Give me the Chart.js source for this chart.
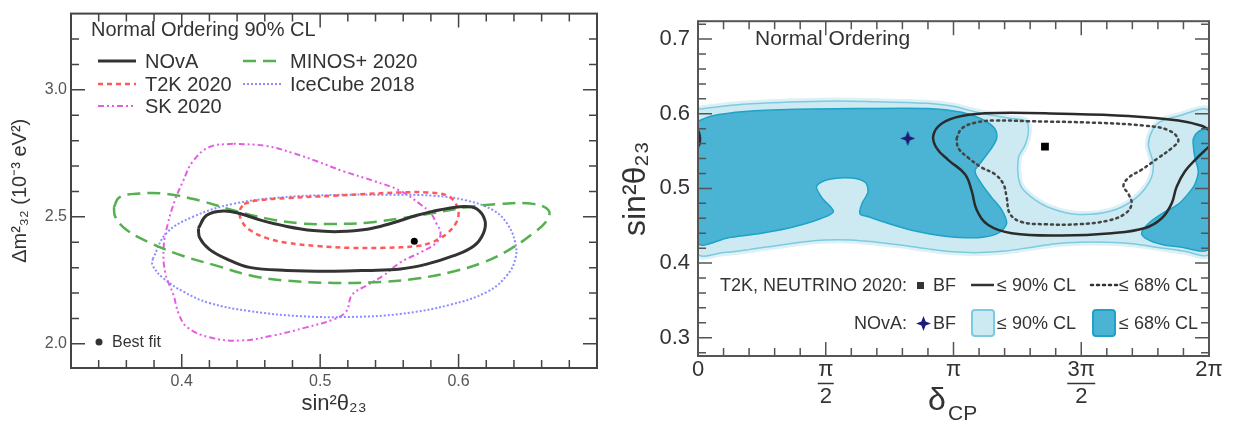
<!DOCTYPE html>
<html>
<head>
<meta charset="utf-8">
<script src="https://cdn.jsdelivr.net/npm/chart.js@4.4.1/dist/chart.umd.min.js"></script>
<style>
  html, body { margin: 0; padding: 0; background: #fff; }
  #wrap { position: relative; width: 1233px; height: 425px; }
  #left { position: absolute; left: 0; top: 0; }
  #right { position: absolute; left: 617px; top: 0; }
</style>
</head>
<body>
<div id="wrap">
  <canvas id="left" width="617" height="425"></canvas>
  <canvas id="right" width="616" height="425"></canvas>
</div>
<script>
// ===== LEFT PANEL DATA (sin^2 theta23 , dm^2_32 in 1e-3 eV^2) =====
const leftTitle = "Normal Ordering 90% CL";
const leftXTicks = [0.4, 0.5, 0.6];
const leftYTicks = [2.0, 2.5, 3.0];

const novaContour = [[0.412,2.455],[0.418,2.506],[0.430,2.523],[0.442,2.513],[0.457,2.487],[0.476,2.462],[0.495,2.446],[0.514,2.442],[0.534,2.451],[0.551,2.474],[0.570,2.506],[0.587,2.528],[0.604,2.541],[0.613,2.532],[0.619,2.487],[0.618,2.436],[0.611,2.385],[0.596,2.346],[0.577,2.314],[0.558,2.295],[0.534,2.289],[0.510,2.286],[0.476,2.289],[0.449,2.301],[0.433,2.333],[0.420,2.372],[0.413,2.417]];
const t2kContour = [[0.445,2.551],[0.454,2.564],[0.476,2.574],[0.510,2.583],[0.534,2.590],[0.558,2.596],[0.577,2.596],[0.592,2.583],[0.598,2.551],[0.600,2.513],[0.598,2.474],[0.592,2.436],[0.587,2.417],[0.580,2.398],[0.570,2.385],[0.546,2.378],[0.522,2.378],[0.498,2.385],[0.476,2.398],[0.461,2.417],[0.449,2.449],[0.443,2.487],[0.442,2.526]];
const minosContour = [[0.351,2.538],[0.355,2.577],[0.370,2.592],[0.389,2.590],[0.413,2.564],[0.437,2.526],[0.461,2.494],[0.486,2.474],[0.510,2.472],[0.534,2.477],[0.558,2.494],[0.582,2.515],[0.606,2.538],[0.630,2.551],[0.654,2.551],[0.665,2.526],[0.664,2.487],[0.654,2.436],[0.637,2.372],[0.618,2.321],[0.594,2.282],[0.570,2.257],[0.546,2.244],[0.510,2.240],[0.473,2.250],[0.449,2.270],[0.425,2.308],[0.401,2.346],[0.377,2.398],[0.360,2.449],[0.352,2.500]];
const icecubeContour = [[0.379,2.334],[0.389,2.436],[0.408,2.500],[0.437,2.551],[0.473,2.577],[0.510,2.586],[0.546,2.587],[0.582,2.583],[0.606,2.564],[0.625,2.526],[0.635,2.474],[0.641,2.398],[0.641,2.334],[0.635,2.270],[0.621,2.206],[0.594,2.154],[0.558,2.118],[0.522,2.106],[0.486,2.109],[0.449,2.129],[0.420,2.161],[0.401,2.206],[0.387,2.257],[0.379,2.308]];
const skContour = [[0.437,2.788],[0.420,2.775],[0.408,2.718],[0.401,2.641],[0.395,2.564],[0.390,2.474],[0.387,2.385],[0.388,2.282],[0.394,2.193],[0.398,2.116],[0.404,2.065],[0.420,2.026],[0.442,2.013],[0.466,2.033],[0.490,2.065],[0.510,2.097],[0.519,2.129],[0.523,2.193],[0.534,2.231],[0.546,2.270],[0.558,2.321],[0.572,2.359],[0.584,2.398],[0.587,2.436],[0.584,2.474],[0.580,2.513],[0.572,2.551],[0.558,2.602],[0.539,2.641],[0.517,2.679],[0.498,2.718],[0.481,2.750],[0.461,2.779]];
const bestFit = [[0.568,2.404]];

// ===== RIGHT PANEL DATA (delta_CP in units of pi , sin^2 theta23) =====
const rightTitle = "Normal Ordering";
const rightXTicks = [0, 0.5, 1, 1.5, 2];
const rightXLabels = ["0", ["π", "2"], "π", ["3π", "2"], "2π"];
const rightYTicks = [0.3, 0.4, 0.5, 0.6, 0.7];

const nova90 = [[0,0.606],[0.12,0.611],[0.25,0.614],[0.40,0.616],[0.55,0.617],[0.70,0.616],[0.82,0.615],[0.90,0.614],[1.00,0.610],[1.08,0.603],[1.15,0.598],[1.22,0.594],[1.285,0.590],[1.293,0.576],[1.28,0.558],[1.254,0.541],[1.26,0.506],[1.306,0.488],[1.384,0.473],[1.489,0.465],[1.619,0.470],[1.71,0.486],[1.769,0.510],[1.782,0.532],[1.763,0.558],[1.776,0.576],[1.808,0.589],[1.88,0.597],[2.0,0.603],[2.0,0.413],[1.9,0.416],[1.8,0.421],[1.7,0.426],[1.6,0.428],[1.5,0.428],[1.4,0.426],[1.3,0.421],[1.2,0.416],[1.1,0.414],[1.0,0.415],[0.9,0.419],[0.8,0.424],[0.7,0.428],[0.6,0.431],[0.5,0.431],[0.4,0.428],[0.3,0.423],[0.2,0.418],[0.1,0.414],[0,0.413]];
const nova68Left = [[0,0.590],[0.053,0.597],[0.184,0.603],[0.38,0.606],[0.641,0.607],[0.902,0.607],[1.032,0.602],[1.110,0.593],[1.162,0.580],[1.169,0.567],[1.149,0.554],[1.110,0.536],[1.084,0.523],[1.110,0.506],[1.149,0.488],[1.189,0.471],[1.208,0.453],[1.175,0.440],[1.097,0.434],[0.967,0.436],[0.836,0.444],[0.745,0.453],[0.667,0.462],[0.634,0.466],[0.641,0.479],[0.665,0.495],[0.655,0.508],[0.601,0.514],[0.510,0.512],[0.464,0.503],[0.484,0.488],[0.530,0.469],[0.484,0.460],[0.380,0.449],[0.249,0.440],[0.119,0.434],[0,0.427]];
const nova68Right = [[2.0,0.582],[1.958,0.576],[1.939,0.567],[1.939,0.556],[1.945,0.541],[1.958,0.523],[1.945,0.506],[1.919,0.493],[1.880,0.479],[1.815,0.466],[1.763,0.453],[1.736,0.440],[1.763,0.431],[1.815,0.425],[1.880,0.422],[2.0,0.420]];
const t2k90 = [[2.0,0.578],[1.971,0.584],[1.880,0.591],[1.684,0.597],[1.423,0.600],[1.162,0.601],[1.032,0.597],[0.954,0.587],[0.921,0.571],[0.934,0.554],[0.980,0.538],[1.045,0.519],[1.071,0.497],[1.091,0.471],[1.136,0.451],[1.228,0.440],[1.423,0.437],[1.619,0.440],[1.750,0.447],[1.815,0.460],[1.854,0.480],[1.873,0.502],[1.906,0.523],[1.945,0.538],[2.0,0.556]];
const t2k90Wrap = [[0,0.578],[0.006,0.572],[0.008,0.565],[0.005,0.559],[0,0.556]];
const t2k68 = [[1.012,0.567],[1.032,0.580],[1.084,0.588],[1.162,0.591],[1.293,0.590],[1.554,0.588],[1.750,0.584],[1.841,0.578],[1.880,0.565],[1.854,0.554],[1.802,0.541],[1.736,0.525],[1.684,0.514],[1.665,0.503],[1.684,0.493],[1.697,0.479],[1.671,0.466],[1.606,0.457],[1.489,0.452],[1.358,0.452],[1.267,0.455],[1.221,0.466],[1.208,0.488],[1.195,0.506],[1.162,0.519],[1.110,0.528],[1.058,0.541],[1.019,0.554]];
const novaBF = [[0.821,0.567]];
const t2kBF = [[1.358,0.556]];

// ===== SETUP =====
const FONT = '"Liberation Sans", Arial, Helvetica, sans-serif';
Chart.defaults.font.family = FONT;
Chart.defaults.color = "#333";
Chart.defaults.animation = false;
Chart.defaults.plugins.legend.display = false;
Chart.defaults.plugins.tooltip.enabled = false;

const toXY = arr => arr.map(p => ({ x: p[0], y: p[1] }));
const closed = arr => toXY(arr.concat([arr[0]]));

function steps(a, b, s) {
  const out = [];
  for (let v = a; v <= b + s / 2; v += s) out.push(Math.round(v * 1000) / 1000);
  return out;
}

function contour(label, pts, color, width, dash, order, legend) {
  return {
    label, data: pts, borderColor: color, borderWidth: width, borderDash: dash,
    pointRadius: 0, tension: 0.4, fill: false, order, legend
  };
}

function region(label, pts, fillColor, lineColor, order) {
  return {
    label, data: closed(pts), backgroundColor: fillColor, borderColor: lineColor,
    borderWidth: 1.5, pointRadius: 0, tension: 0.3, fill: "shape", order
  };
}

// frame + inward ticks on all four sides
function framePlugin(cfg) {
  return {
    id: "frame",
    afterDatasetsDraw(chart) {
      const { ctx, chartArea: a } = chart;
      const x = chart.scales.x, y = chart.scales.y;
      ctx.save();
      ctx.strokeStyle = cfg.color;
      ctx.lineWidth = 1.5;
      ctx.beginPath();
      cfg.xMinor.forEach(v => {
        const p = x.getPixelForValue(v);
        const len = cfg.xMajor.some(m => Math.abs(m - v) < 1e-6) ? cfg.major : cfg.minor;
        ctx.moveTo(p, a.bottom); ctx.lineTo(p, a.bottom - len);
        ctx.moveTo(p, a.top); ctx.lineTo(p, a.top + len);
      });
      cfg.yMinor.forEach(v => {
        const p = y.getPixelForValue(v);
        const len = cfg.yMajor.some(m => Math.abs(m - v) < 1e-6) ? cfg.major : cfg.minor;
        ctx.moveTo(a.left, p); ctx.lineTo(a.left + len, p);
        ctx.moveTo(a.right, p); ctx.lineTo(a.right - len, p);
      });
      ctx.stroke();
      ctx.lineWidth = 2;
      ctx.strokeRect(a.left, a.top, a.right - a.left, a.bottom - a.top);
      ctx.restore();
    }
  };
}

// ===== LEFT LEGEND =====
const leftLegend = {
  id: "leftLegend",
  afterDraw(chart) {
    const ctx = chart.ctx;
    ctx.save();
    ctx.fillStyle = "#333";
    ctx.textBaseline = "middle";
    ctx.font = "20px " + FONT;
    ctx.fillText(leftTitle, 91, 30);
    const slots = [[98, 61], [98, 84], [98, 106], [243, 61], [243, 84]];
    chart.data.datasets.filter(d => d.legend).forEach((d, i) => {
      const [lx, ly] = slots[i];
      ctx.save();
      ctx.strokeStyle = d.borderColor;
      ctx.lineWidth = d.borderWidth;
      ctx.setLineDash(d.borderDash || []);
      ctx.beginPath(); ctx.moveTo(lx, ly); ctx.lineTo(lx + 38, ly); ctx.stroke();
      ctx.restore();
      ctx.fillText(d.label, lx + 47, ly + 1);
    });
    ctx.beginPath(); ctx.arc(99, 342, 3.5, 0, Math.PI * 2); ctx.fill();
    ctx.font = "16px " + FONT;
    ctx.fillText("Best fit", 112, 343);
    ctx.restore();
  }
};

new Chart(document.getElementById("left"), {
  type: "line",
  data: {
    datasets: [
      { label: "Best fit", data: toXY(bestFit), showLine: false, pointRadius: 3.5, pointBackgroundColor: "#000", pointBorderWidth: 0, order: 0 },
      contour("NOvA", closed(novaContour), "#333", 3, [], 1, true),
      contour("T2K 2020", closed(t2kContour), "#ff5a5a", 2.5, [5, 4], 2, true),
      contour("SK 2020", closed(skContour), "#e45ce4", 2, [6, 3, 2, 3, 2, 3], 5, true),
      contour("MINOS+ 2020", closed(minosContour), "#55b04f", 2.5, [13, 7], 3, true),
      contour("IceCube 2018", closed(icecubeContour), "#8c8cff", 2, [2, 2], 4, true)
    ]
  },
  options: {
    responsive: false,
    layout: { padding: { top: 4, right: 20, left: 0, bottom: 0 } },
    scales: {
      x: {
        type: "linear", min: 0.32, max: 0.70,
        grid: { display: false, drawTicks: false }, border: { display: false },
        afterBuildTicks: s => { s.ticks = leftXTicks.map(v => ({ value: v })); },
        afterFit: s => { s.height = 57; },
        ticks: { autoSkip: false, maxRotation: 0, padding: 4, color: "#555", font: { size: 16 }, callback: v => v.toFixed(1) },
        title: { display: true, text: "sin²θ₂₃", color: "#333", font: { size: 22 }, padding: { top: 0, bottom: 8 } }
      },
      y: {
        type: "linear", min: 1.905, max: 3.30,
        grid: { display: false, drawTicks: false }, border: { display: false },
        afterBuildTicks: s => { s.ticks = leftYTicks.map(v => ({ value: v })); },
        afterFit: s => { s.width = 71; },
        ticks: { autoSkip: false, padding: 4, color: "#555", font: { size: 16 }, callback: v => v.toFixed(1) },
        title: { display: true, text: "Δm²₃₂ (10⁻³ eV²)", color: "#333", font: { size: 20 }, padding: { top: 8, bottom: 0 } }
      }
    }
  },
  plugins: [framePlugin({ color: "#444", major: 14, minor: 8, xMajor: leftXTicks, yMajor: leftYTicks, xMinor: steps(0.34, 0.68, 0.02), yMinor: steps(2.0, 3.2, 0.1) }), leftLegend]
});

// ===== RIGHT PANEL =====
function starImage(size, color) {
  const c = document.createElement("canvas");
  c.width = c.height = size;
  const g = c.getContext("2d");
  const r = size / 2, k = r * 0.28;
  g.fillStyle = color;
  g.beginPath();
  g.moveTo(r, 0); g.lineTo(r + k, r - k); g.lineTo(size, r); g.lineTo(r + k, r + k);
  g.lineTo(r, size); g.lineTo(r - k, r + k); g.lineTo(0, r); g.lineTo(r - k, r - k);
  g.closePath(); g.fill();
  return c;
}
const star = starImage(15, "#1c1c78");
const LIGHT = "#cde9f1", LIGHT_LINE = "#7ccbe0", DARK = "#4bb3d3", DARK_LINE = "#1fa2c8";

const rightDecor = {
  id: "rightDecor",
  afterDraw(chart) {
    const ctx = chart.ctx;
    const x = chart.scales.x;
    ctx.save();
    ctx.fillStyle = "#333";
    ctx.strokeStyle = "#333";
    ctx.textBaseline = "middle";
    // fraction bars for pi/2 and 3pi/2
    ctx.lineWidth = 1.5;
    [[0.5, 16], [1.5, 28]].forEach(([v, w]) => {
      const p = x.getPixelForValue(v);
      ctx.beginPath(); ctx.moveTo(p - w / 2, 383.5); ctx.lineTo(p + w / 2, 383.5); ctx.stroke();
    });
    // axis title delta_CP
    ctx.textBaseline = "alphabetic";
    ctx.font = "32px " + FONT;
    ctx.fillText("δ", 311, 410);
    ctx.font = "21px " + FONT;
    ctx.fillText("CP", 331, 420);
    // title
    ctx.textBaseline = "middle";
    ctx.font = "21px " + FONT;
    ctx.fillText(rightTitle, 138, 39);
    // legend
    ctx.font = "18px " + FONT;
    ctx.textAlign = "right";
    ctx.fillText("T2K, NEUTRINO 2020:", 290, 286);
    ctx.fillText("NOvA:", 290, 324);
    ctx.textAlign = "left";
    ctx.fillRect(300, 282, 7, 7);
    ctx.fillText("BF", 316, 286);
    ctx.drawImage(star, 299, 316);
    ctx.fillText("BF", 316, 324);
    ctx.lineWidth = 2.5;
    ctx.beginPath(); ctx.moveTo(354, 285); ctx.lineTo(377, 285); ctx.stroke();
    ctx.fillText("≤ 90% CL", 380, 286);
    ctx.save();
    ctx.setLineDash([2, 4]); ctx.lineCap = "round";
    ctx.beginPath(); ctx.moveTo(474, 285); ctx.lineTo(500, 285); ctx.stroke();
    ctx.restore();
    ctx.fillText("≤ 68% CL", 502, 286);
    ctx.lineWidth = 2;
    ctx.fillStyle = LIGHT; ctx.strokeStyle = LIGHT_LINE;
    ctx.beginPath(); ctx.roundRect(355, 310, 22, 26, 3); ctx.fill(); ctx.stroke();
    ctx.fillStyle = DARK; ctx.strokeStyle = DARK_LINE;
    ctx.beginPath(); ctx.roundRect(476, 310, 22, 26, 3); ctx.fill(); ctx.stroke();
    ctx.fillStyle = "#333";
    ctx.fillText("≤ 90% CL", 380, 324);
    ctx.fillText("≤ 68% CL", 502, 324);
    ctx.restore();
  }
};

new Chart(document.getElementById("right"), {
  type: "line",
  data: {
    datasets: [
      { label: "NOvA ≤ 90% CL halo", data: closed(nova90), borderColor: "#dcf0f6", borderWidth: 7, pointRadius: 0, tension: 0.3, fill: false, order: 11 },
      region("NOvA ≤ 90% CL", nova90, LIGHT, LIGHT_LINE, 10),
      region("NOvA ≤ 68% CL", nova68Left, DARK, DARK_LINE, 9),
      region("NOvA ≤ 68% CL (2π)", nova68Right, DARK, DARK_LINE, 9),
      { label: "T2K ≤ 90% CL", data: toXY(t2k90), borderColor: "#2b2b2b", borderWidth: 2.5, pointRadius: 0, tension: 0.4, fill: false, order: 5 },
      { label: "T2K ≤ 90% CL (0)", data: toXY(t2k90Wrap), borderColor: "#2b2b2b", borderWidth: 2.5, pointRadius: 0, tension: 0.4, fill: false, order: 5 },
      { label: "T2K ≤ 68% CL", data: closed(t2k68), borderColor: "#444", borderWidth: 2.5, borderDash: [2, 4], borderCapStyle: "round", pointRadius: 0, tension: 0.4, fill: false, order: 4 },
      { label: "NOvA BF", data: toXY(novaBF), showLine: false, pointStyle: star, pointRadius: 7, order: 1 },
      { label: "T2K BF", data: toXY(t2kBF), showLine: false, pointStyle: "rect", pointRadius: 5.5, pointBackgroundColor: "#000", pointBorderWidth: 0, order: 1 }
    ]
  },
  options: {
    responsive: false,
    layout: { padding: { top: 14, right: 24, left: 0, bottom: 0 } },
    scales: {
      x: {
        type: "linear", min: 0, max: 2,
        grid: { display: false, drawTicks: false }, border: { display: false },
        afterBuildTicks: s => { s.ticks = rightXTicks.map(v => ({ value: v })); },
        afterFit: s => { s.height = 69; },
        ticks: { autoSkip: false, maxRotation: 0, padding: 0, color: "#333", font: { size: 22, lineHeight: 1.25 },
          callback: v => rightXLabels[rightXTicks.indexOf(v)] }
      },
      y: {
        type: "linear", min: 0.2755, max: 0.724,
        grid: { display: false, drawTicks: false }, border: { display: false },
        afterBuildTicks: s => { s.ticks = rightYTicks.map(v => ({ value: v })); },
        afterFit: s => { s.width = 81; },
        ticks: { autoSkip: false, padding: 8, color: "#333", font: { size: 22 }, callback: v => v.toFixed(1) },
        title: { display: true, text: "sin²θ₂₃", color: "#333", font: { size: 32 }, padding: { top: 0, bottom: 0 } }
      }
    }
  },
  plugins: [framePlugin({ color: "#555", major: 14, minor: 8, xMajor: rightXTicks, yMajor: rightYTicks, xMinor: steps(0.1, 1.9, 0.1), yMinor: steps(0.28, 0.72, 0.02) }), rightDecor]
});
</script>
</body>
</html>
